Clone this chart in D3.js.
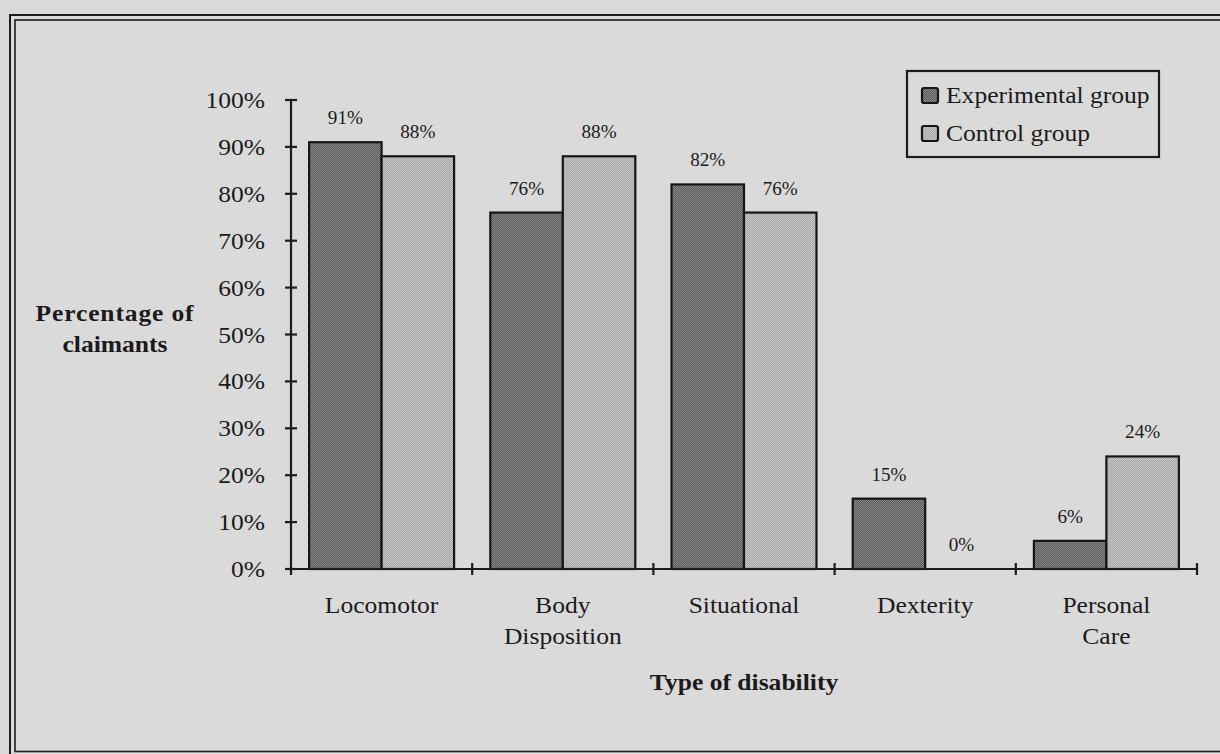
<!DOCTYPE html>
<html>
<head>
<meta charset="utf-8">
<script src="https://cdn.jsdelivr.net/npm/d3@7/dist/d3.min.js"></script>
<style>
  html, body { margin: 0; padding: 0; background: #dadada; }
  svg { display: block; }
  text { font-family: "Liberation Serif", "Times New Roman", serif; fill: #1a1a1a; }
</style>
</head>
<body>
<svg id="chart" width="1220" height="754"></svg>
<script>
// Share of claimants by type of disability, for the two groups
const categories = ["Locomotor", "Body Disposition", "Situational", "Dexterity", "Personal Care"];
const categoryLines = [["Locomotor"], ["Body", "Disposition"], ["Situational"], ["Dexterity"], ["Personal", "Care"]];
const seriesNames = ["Experimental group", "Control group"];
const experimental = [91, 76, 82, 15, 6];
const control = [88, 88, 76, 0, 24];
const yTicks = [0, 10, 20, 30, 40, 50, 60, 70, 80, 90, 100];

const svg = d3.select("#chart");
const W = 1220, H = 754;
const SX = 1.065; // slight horizontal widening of the serif type

const ink = "#1c1c1c";
const plot = { left: 291, right: 1197, top: 100, bottom: 569 };

// stippled fills for the two series
const defs = svg.append("defs");
function stipple(id, a, b) {
  const p = defs.append("pattern").attr("id", id)
    .attr("width", 2).attr("height", 2).attr("patternUnits", "userSpaceOnUse");
  p.append("rect").attr("width", 2).attr("height", 2).attr("fill", a);
  p.append("rect").attr("width", 1).attr("height", 1).attr("fill", b);
  p.append("rect").attr("x", 1).attr("y", 1).attr("width", 1).attr("height", 1).attr("fill", b);
}
stipple("expFill", "#5a5a5a", "#888888");
stipple("ctrlFill", "#a6a6a6", "#c6c6c6");
const fills = ["url(#expFill)", "url(#ctrlFill)"];

// background and double frame
svg.append("rect").attr("width", W).attr("height", H).attr("fill", "#dadada");
svg.append("rect").attr("x", 10).attr("y", 15).attr("width", 1230).attr("height", 760)
  .attr("fill", "none").attr("stroke", ink).attr("stroke-width", 2);
svg.append("rect").attr("x", 15).attr("y", 20).attr("width", 1220).attr("height", 731.5)
  .attr("fill", "none").attr("stroke", ink).attr("stroke-width", 1.6);

// text helper: positioned by transform so the glyphs can be widened a touch
function label(g, x, y, str, opts = {}) {
  return g.append("text")
    .attr("transform", `translate(${x},${y}) scale(${SX},1)`)
    .attr("text-anchor", opts.anchor || "middle")
    .attr("font-size", opts.size || 24)
    .attr("font-weight", opts.bold ? "bold" : "normal")
    .attr("letter-spacing", opts.spacing || 0)
    .text(str);
}

const x = d3.scaleBand().domain(categories).range([plot.left, plot.right]).padding(0);
const xs = d3.scaleBand().domain(seriesNames).range([0, x.bandwidth()]).paddingInner(0).paddingOuter(0.25);
const y = d3.scaleLinear().domain([0, 100]).range([plot.bottom, plot.top]);

const g = svg.append("g");

// bars
const series = [experimental, control];
series.forEach((vals, si) => {
  g.selectAll(null).data(categories.map((c, i) => ({ c, v: vals[i] })).filter(d => d.v > 0))
    .enter().append("rect")
    .attr("x", d => x(d.c) + xs(seriesNames[si]))
    .attr("y", d => y(d.v))
    .attr("width", xs.bandwidth())
    .attr("height", d => y(0) - y(d.v))
    .attr("fill", fills[si])
    .attr("stroke", "#151515")
    .attr("stroke-width", 2.2);
});

// value labels above the bars
const vg = svg.append("g");
series.forEach((vals, si) => {
  categories.forEach((c, i) => {
    label(vg, x(c) + xs(seriesNames[si]) + xs.bandwidth() / 2, y(vals[i]) - 18, vals[i] + "%", { size: 18 });
  });
});

// y axis with crossing ticks
const ag = svg.append("g").attr("stroke", ink).attr("stroke-width", 2.2);
ag.append("line").attr("x1", plot.left).attr("x2", plot.left).attr("y1", y(100)).attr("y2", y(0) + 6);
ag.selectAll(null).data(yTicks).enter().append("line")
  .attr("x1", plot.left - 6).attr("x2", plot.left + 6)
  .attr("y1", d => y(d)).attr("y2", d => y(d));
const tg = svg.append("g");
yTicks.forEach(t => label(tg, plot.left - 26, y(t) + 8, t + "%", { anchor: "end", size: 24 }));

// x axis with crossing ticks at band edges
ag.append("line").attr("x1", plot.left).attr("x2", plot.right).attr("y1", y(0)).attr("y2", y(0));
const edges = categories.map(c => x(c) + x.bandwidth());
ag.selectAll(null).data(edges).enter().append("line")
  .attr("x1", d => d).attr("x2", d => d)
  .attr("y1", y(0) - 6).attr("y2", y(0) + 6);

// category labels
categoryLines.forEach((lines, i) => {
  lines.forEach((ln, k) => label(tg, x(categories[i]) + x.bandwidth() / 2, 613 + k * 31, ln, { size: 24 }));
});

// axis titles
label(tg, (plot.left + plot.right) / 2, 690, "Type of disability", { size: 24, bold: true });
label(tg, 115, 321, "Percentage of", { size: 24, bold: true, spacing: 0.8 });
label(tg, 115, 352, "claimants", { size: 24, bold: true });

// legend
const lg = svg.append("g");
lg.append("rect").attr("x", 907).attr("y", 71).attr("width", 252).attr("height", 86)
  .attr("fill", "none").attr("stroke", ink).attr("stroke-width", 2.2);
seriesNames.forEach((name, i) => {
  const yy = 103 + i * 38;
  lg.append("rect").attr("x", 922).attr("y", yy - 15).attr("width", 16).attr("height", 15)
    .attr("rx", 2).attr("fill", fills[i]).attr("stroke", "#151515").attr("stroke-width", 2.2);
  label(lg, 946, yy, name, { anchor: "start", size: 24 });
});
</script>
</body>
</html>
